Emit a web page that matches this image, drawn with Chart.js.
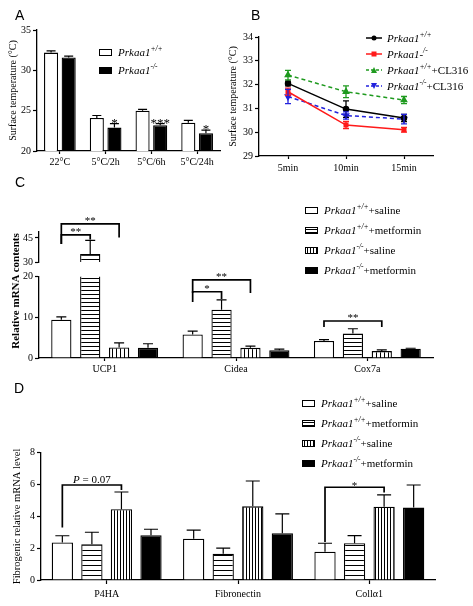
<!DOCTYPE html>
<html>
<head>
<meta charset="utf-8">
<script src="https://cdn.jsdelivr.net/npm/chart.js@4.4.1/dist/chart.umd.min.js"></script>
<style>
  body { margin: 0; background: #fff; }
  #fig { position: relative; width: 473px; height: 606px; overflow: hidden; font-family: 'Liberation Serif', 'Times New Roman', serif; color: #000; }
  canvas { position: absolute; }
  .tag { position: absolute; font: 14px/14px 'Liberation Sans', Arial, sans-serif; }
  .legend { position: absolute; font-size: 11px; }
  .legend .row { display: flex; align-items: center; white-space: nowrap; }
  .sw { width: 11px; height: 5px; border: 1.5px solid #000; margin-right: 6px; }
  .sw.white { background: #fff; }
  .sw.black { background: #000; }
  .sw.hstripe { background: repeating-linear-gradient(to bottom, #fff 0 1px, #000 1px 2px, #fff 2px 3px); }
  .sw.vstripe { background: repeating-linear-gradient(to right, #fff 0 1px, #000 1px 2px, #fff 2px 3px); }
  .legend i { font-style: italic; }
  .sup { font-size: 7.5px; font-style: italic; position: relative; top: -4px; }
  .ytitle { position: absolute; white-space: nowrap; transform: translate(-50%, -50%) rotate(-90deg); }
</style>
</head>
<body>
<div id="fig">
  <canvas id="chartA" width="236" height="180" style="left:0;top:0"></canvas>
  <canvas id="chartB" width="253" height="180" style="left:220px;top:0"></canvas>
  <canvas id="chartCtop" width="473" height="75" style="left:0;top:195px"></canvas>
  <canvas id="chartC" width="473" height="124" style="left:0;top:262px"></canvas>
  <canvas id="chartD" width="473" height="216" style="left:0;top:390px"></canvas>

  <div class="tag" style="left:15px;top:8px">A</div>
  <div class="tag" style="left:251px;top:8px">B</div>
  <div class="tag" style="left:15px;top:175px">C</div>
  <div class="tag" style="left:14px;top:381px">D</div>

  <div class="ytitle" style="left:15px;top:291px;font-size:11px;font-weight:bold">Relative mRNA contents</div>

  <div class="legend" style="left:99px;top:43px">
    <div class="row" style="height:18px"><span class="sw white"></span><i>Prkaa1</i><span class="sup">+/+</span></div>
    <div class="row" style="height:18px"><span class="sw black"></span><i>Prkaa1</i><span class="sup">-/-</span></div>
  </div>

  <div class="legend" style="left:366px;top:30px">
    <div class="row" style="height:16px"><svg width="16" height="8" style="margin-right:5px"><line x1="0" y1="4" x2="16" y2="4" stroke="#000" stroke-width="1.5"/><circle cx="8" cy="4" r="2.5" fill="#000"/></svg><i>Prkaa1</i><span class="sup">+/+</span></div>
    <div class="row" style="height:16px"><svg width="16" height="8" style="margin-right:5px"><line x1="0" y1="4" x2="16" y2="4" stroke="#ff1a1a" stroke-width="1.5"/><rect x="5.5" y="1.5" width="5" height="5" fill="#ff1a1a"/></svg><i>Prkaa1-</i><span class="sup">/-</span></div>
    <div class="row" style="height:16px"><svg width="16" height="8" style="margin-right:5px"><line x1="0" y1="4" x2="16" y2="4" stroke="#1f9a1f" stroke-width="1.5" stroke-dasharray="3,2"/><polygon points="8,1 5,7 11,7" fill="#1f9a1f"/></svg><i>Prkaa1</i><span class="sup">+/+</span>+CL316</div>
    <div class="row" style="height:16px"><svg width="16" height="8" style="margin-right:5px"><line x1="0" y1="4" x2="16" y2="4" stroke="#2222dd" stroke-width="1.5" stroke-dasharray="3,2"/><polygon points="8,7 5,1 11,1" fill="#2222dd"/></svg><i>Prkaa1</i><span class="sup">-/-</span>+CL316</div>
  </div>

  <div class="legend" style="left:305px;top:200px">
    <div class="row" style="height:20px"><span class="sw white"></span><i>Prkaa1</i><span class="sup">+/+</span>+saline</div>
    <div class="row" style="height:20px"><span class="sw hstripe"></span><i>Prkaa1</i><span class="sup">+/+</span>+metformin</div>
    <div class="row" style="height:20px"><span class="sw vstripe"></span><i>Prkaa1</i><span class="sup">-/-</span>+saline</div>
    <div class="row" style="height:20px"><span class="sw black"></span><i>Prkaa1</i><span class="sup">-/-</span>+metformin</div>
  </div>

  <div class="legend" style="left:302px;top:393px">
    <div class="row" style="height:20px"><span class="sw white"></span><i>Prkaa1</i><span class="sup">+/+</span>+saline</div>
    <div class="row" style="height:20px"><span class="sw hstripe"></span><i>Prkaa1</i><span class="sup">+/+</span>+metformin</div>
    <div class="row" style="height:20px"><span class="sw vstripe"></span><i>Prkaa1</i><span class="sup">-/-</span>+saline</div>
    <div class="row" style="height:20px"><span class="sw black"></span><i>Prkaa1</i><span class="sup">-/-</span>+metformin</div>
  </div>
</div>

<script>
// A - surface temperature, cold exposure
const catsA   = ['22°C', '5°C/2h', '5°C/6h', '5°C/24h']
const wtA     = [32.2, 24.1, 25.0, 23.5]
const wtErrA  = [0.2, 0.3, 0.15, 0.3]
const koA     = [31.6, 22.9, 23.2, 22.2]
const koErrA  = [0.15, 0.5, 0.2, 0.4]
const starsA  = ['', '*', '***', '*']

// B - surface temperature after CL316
const catsB     = ['5min', '10min', '15min']
const wtB       = [32.05, 30.97, 30.6]
const wtErrB    = [0.1, 0.35, 0.15]
const koB       = [31.7, 30.3, 30.1]
const koErrB    = [0.15, 0.15, 0.1]
const wtClB     = [32.4, 31.7, 31.35]
const wtClErrB  = [0.2, 0.25, 0.15]
const koClB     = [31.5, 30.7, 30.55]
const koClErrB  = [0.3, 0.15, 0.2]

// C - thermogenic genes
const genesC     = ['UCP1', 'Cidea', 'Cox7a']
const wtSalC     = [9.4, 5.8, 4.2]
const wtSalErrC  = [0.7, 0.8, 0.3]
const wtMetC     = [35, 11.9, 6.0]
const wtMetErrC  = [8.5, 2.4, 1.2]
const koSalC     = [2.6, 2.5, 1.7]
const koSalErrC  = [1.1, 0.4, 0.3]
const koMetC     = [2.5, 1.9, 2.3]
const koMetErrC  = [1.0, 0.3, 0.1]
// brackets: category, from/to dataset, top value, leg ends
const bracketsCtop = [
  { cat: 0, a: 0, b: 2, top: 53.7, endA: 41.2, endB: 45.2, text: '**' },
  { cat: 0, a: 0, b: 1, top: 46.9, endA: 41.2, endB: 44.0, text: '**' },
]
const bracketsC = [
  { cat: 1, a: 0, b: 2, top: 19.2, endA: 16.0, endB: 16.0, text: '**' },
  { cat: 1, a: 0, b: 1, top: 16.3, endA: 13.8, endB: 14.5, text: '*' },
  { cat: 2, a: 0, b: 2, top: 9.1, endA: 7.6, endB: 7.6, text: '**' },
]

// D - fibrogenic genes
const genesD     = ['P4HA', 'Fibronectin', 'Collα1']
const wtSalD     = [2.36, 2.59, 1.78]
const wtSalErrD  = [0.42, 0.54, 0.53]
const wtMetD     = [2.25, 1.65, 2.31]
const wtMetErrD  = [0.75, 0.35, 0.48]
const koSalD     = [4.45, 4.63, 4.61]
const koSalErrD  = [1.08, 1.59, 0.74]
const koMetD     = [2.82, 2.94, 4.55]
const koMetErrD  = [0.37, 1.21, 1.42]
const bracketsD = [
  { cat: 0, a: 0, b: 2, top: 5.97, endA: 3.3, endB: 5.66, text: 'P = 0.07', dy: -2 },
  { cat: 2, a: 0, b: 2, top: 5.83, endA: 2.39, endB: 5.5, text: '*', dy: 2 },
]

const SERIF = "'Liberation Serif', 'Times New Roman', serif"
Chart.defaults.font.family = SERIF
Chart.defaults.color = '#000'

function stripes(dir, gap) {
  const c = document.createElement('canvas')
  c.width = dir === 'h' ? 8 : gap
  c.height = dir === 'h' ? gap : 8
  const g = c.getContext('2d')
  g.fillStyle = '#fff'; g.fillRect(0, 0, c.width, c.height)
  g.fillStyle = '#000'
  if (dir === 'h') g.fillRect(0, 0, c.width, 1)
  else g.fillRect(0, 0, 1, c.height)
  return g.createPattern(c, 'repeat')
}

const errorBars = {
  id: 'errorBars',
  afterDatasetsDraw(chart, args, opts) {
    const ctx = chart.ctx, y = chart.scales.y, a = chart.chartArea
    const cap = opts.cap || 10
    ctx.save()
    ctx.beginPath(); ctx.rect(a.left - 10, a.top, a.right - a.left + 20, a.bottom - a.top); ctx.clip()
    chart.data.datasets.forEach((ds, i) => {
      if (!ds.errors) return
      ctx.strokeStyle = ds.errorColor || '#000'
      ctx.lineWidth = opts.width || 1.2
      chart.getDatasetMeta(i).data.forEach((el, j) => {
        const v = ds.data[j], e = ds.errors[j]
        const x = el.x
        const hi = y.getPixelForValue(v + e)
        const lo = opts.both ? y.getPixelForValue(v - e) : y.getPixelForValue(v)
        ctx.beginPath()
        ctx.moveTo(x, lo); ctx.lineTo(x, hi)
        ctx.moveTo(x - cap / 2, hi); ctx.lineTo(x + cap / 2, hi)
        if (opts.both) { ctx.moveTo(x - cap / 2, lo); ctx.lineTo(x + cap / 2, lo) }
        ctx.stroke()
      })
    })
    ctx.restore()
  }
}

function drawLabel(ctx, text, x, y, size) {
  ctx.textBaseline = 'alphabetic'
  if (text.startsWith('P')) {
    const rest = text.slice(1)
    ctx.font = `italic ${size}px ${SERIF}`
    const w1 = ctx.measureText('P').width
    ctx.font = `${size}px ${SERIF}`
    const w2 = ctx.measureText(rest).width
    const x0 = x - (w1 + w2) / 2
    ctx.textAlign = 'left'
    ctx.font = `italic ${size}px ${SERIF}`; ctx.fillText('P', x0, y)
    ctx.font = `${size}px ${SERIF}`; ctx.fillText(rest, x0 + w1, y)
  } else {
    ctx.textAlign = 'center'
    ctx.font = `${size}px ${SERIF}`
    ctx.fillText(text, x, y)
  }
}

const sigMarks = {
  id: 'sigMarks',
  afterDatasetsDraw(chart, args, opts) {
    const ctx = chart.ctx, y = chart.scales.y
    ctx.save()
    ctx.strokeStyle = '#000'; ctx.fillStyle = '#000'
    ctx.lineWidth = opts.lineWidth || 1.7
    ;(opts.brackets || []).forEach(b => {
      const xa = chart.getDatasetMeta(b.a).data[b.cat].x
      const xb = chart.getDatasetMeta(b.b).data[b.cat].x
      const yt = y.getPixelForValue(b.top)
      ctx.beginPath()
      ctx.moveTo(xa, y.getPixelForValue(b.endA))
      ctx.lineTo(xa, yt); ctx.lineTo(xb, yt)
      ctx.lineTo(xb, y.getPixelForValue(b.endB))
      ctx.stroke()
      drawLabel(ctx, b.text, (xa + xb) / 2, yt + (b.dy || 0), opts.size || 11)
    })
    if (opts.stars) {
      const ds = chart.data.datasets[opts.stars.ds]
      chart.getDatasetMeta(opts.stars.ds).data.forEach((el, j) => {
        const t = opts.stars.marks[j]
        if (!t) return
        const yc = y.getPixelForValue(ds.data[j] + ds.errors[j])
        drawLabel(ctx, t, el.x, yc + 3, opts.stars.size || 13)
      })
    }
    ctx.restore()
  }
}

function xAxis(h, tl, pad, size) {
  return {
    afterFit: s => { s.height = h },
    grid: { display: true, drawOnChartArea: false, offset: false, tickLength: tl, color: '#000', tickWidth: 1.2 },
    border: { color: '#000', width: 1.3 },
    ticks: { padding: pad, font: { size: size || 10 }, color: '#000', maxRotation: 0, autoSkip: false },
  }
}

function yAxis(w, min, max, step, title, tSize, tPad) {
  return {
    min, max,
    afterFit: s => { s.width = w },
    grid: { display: true, drawOnChartArea: false, tickLength: 4, color: '#000', tickWidth: 1.2 },
    border: { color: '#000', width: 1.3 },
    ticks: { stepSize: step, padding: 2, font: { size: 10 }, color: '#000' },
    title: title ? { display: true, text: title, font: { size: tSize }, color: '#000', padding: { top: tPad, bottom: 0 } } : { display: false },
  }
}

const baseOpts = {
  responsive: false,
  animation: false,
  events: [],
}

// ---- A
new Chart(document.getElementById('chartA'), {
  type: 'bar',
  data: {
    labels: catsA,
    datasets: [
      { label: 'Prkaa1+/+', data: wtA, errors: wtErrA, backgroundColor: '#fff', borderColor: '#000', borderWidth: 1.3 },
      { label: 'Prkaa1-/-', data: koA, errors: koErrA, backgroundColor: '#000', borderColor: '#000', borderWidth: 1.3 },
    ]
  },
  options: {
    ...baseOpts,
    layout: { padding: { left: 0, right: 16, top: 30, bottom: 4 } },
    datasets: { bar: { categoryPercentage: 0.77, barPercentage: 0.8 } },
    plugins: {
      legend: { display: false }, tooltip: { enabled: false },
      errorBars: { cap: 9 },
      sigMarks: { stars: { ds: 1, marks: starsA, size: 13 } },
    },
    scales: {
      x: xAxis(25, 3, 2),
      y: yAxis(37, 20, 35, 5, 'Surface temperature (°C)', 10, 7),
    }
  },
  plugins: [errorBars, sigMarks]
})

// ---- B
const lineSet = (label, data, errors, color, style, extra) => ({
  label, data, errors, errorColor: color,
  borderColor: color, backgroundColor: color, pointBorderColor: color, pointBackgroundColor: color,
  borderWidth: 1.5, pointStyle: style, pointRadius: 3, tension: 0, ...extra
})
new Chart(document.getElementById('chartB'), {
  type: 'line',
  data: {
    labels: catsB,
    datasets: [
      lineSet('Prkaa1+/+', wtB, wtErrB, '#000', 'circle', { pointRadius: 2.5 }),
      lineSet('Prkaa1-/-', koB, koErrB, '#ff1a1a', 'rect', { pointRadius: 2.5 }),
      lineSet('Prkaa1+/++CL316', wtClB, wtClErrB, '#1f9a1f', 'triangle', { borderDash: [4, 3] }),
      lineSet('Prkaa1-/-+CL316', koClB, koClErrB, '#2222dd', 'triangle', { borderDash: [4, 3], rotation: 180 }),
    ]
  },
  options: {
    ...baseOpts,
    layout: { padding: { left: 0, right: 40, top: 37, bottom: 0 } },
    plugins: { legend: { display: false }, tooltip: { enabled: false }, errorBars: { cap: 6, both: true, width: 1.3 } },
    scales: {
      x: { ...xAxis(24, 3, 3), offset: true },
      y: yAxis(39, 29, 34, 1, 'Surface temperature (°C)', 10, 7),
    }
  },
  plugins: [errorBars]
})

// ---- C (broken axis: upper and lower panels share data)
const barSetsC = () => [
  { label: 'Prkaa1+/++saline', data: wtSalC, errors: wtSalErrC, backgroundColor: '#fff' },
  { label: 'Prkaa1+/++metformin', data: wtMetC, errors: wtMetErrC, backgroundColor: stripes('h', 4) },
  { label: 'Prkaa1-/-+saline', data: koSalC, errors: koSalErrC, backgroundColor: stripes('v', 4) },
  { label: 'Prkaa1-/-+metformin', data: koMetC, errors: koMetErrC, backgroundColor: '#000' },
].map(d => ({ ...d, borderColor: '#000', borderWidth: 1.3, clip: 0 }))

new Chart(document.getElementById('chartCtop'), {
  type: 'bar',
  data: { labels: genesC, datasets: barSetsC() },
  options: {
    ...baseOpts,
    layout: { padding: { left: 0, right: 40, top: 36.5, bottom: 5.7 } },
    datasets: { bar: { categoryPercentage: 0.88, barPercentage: 0.7 } },
    plugins: {
      legend: { display: false }, tooltip: { enabled: false },
      errorBars: { cap: 10 },
      sigMarks: { brackets: bracketsCtop, size: 11 },
    },
    scales: {
      x: { ...xAxis(0, 3, 2), display: false },
      y: { ...yAxis(39, 30, 49, 15), afterBuildTicks: s => { s.ticks = [{ value: 30 }, { value: 45 }] } },
    }
  },
  plugins: [errorBars, sigMarks]
})

new Chart(document.getElementById('chartC'), {
  type: 'bar',
  data: { labels: genesC, datasets: barSetsC() },
  options: {
    ...baseOpts,
    layout: { padding: { left: 0, right: 40, top: 14.7, bottom: 4 } },
    datasets: { bar: { categoryPercentage: 0.88, barPercentage: 0.7 } },
    plugins: {
      legend: { display: false }, tooltip: { enabled: false },
      errorBars: { cap: 10 },
      sigMarks: { brackets: bracketsC, size: 11 },
    },
    scales: {
      x: xAxis(24, 3, 2),
      y: yAxis(39, 0, 20, 10),
    }
  },
  plugins: [errorBars, sigMarks]
})

// ---- D
new Chart(document.getElementById('chartD'), {
  type: 'bar',
  data: {
    labels: genesD,
    datasets: [
      { label: 'Prkaa1+/++saline', data: wtSalD, errors: wtSalErrD, backgroundColor: '#fff' },
      { label: 'Prkaa1+/++metformin', data: wtMetD, errors: wtMetErrD, backgroundColor: stripes('h', 5) },
      { label: 'Prkaa1-/-+saline', data: koSalD, errors: koSalErrD, backgroundColor: stripes('v', 3) },
      { label: 'Prkaa1-/-+metformin', data: koMetD, errors: koMetErrD, backgroundColor: '#000' },
    ].map(d => ({ ...d, borderColor: '#000', borderWidth: 1.3 }))
  },
  options: {
    ...baseOpts,
    layout: { padding: { left: 0, right: 38, top: 62.7, bottom: 4 } },
    datasets: { bar: { categoryPercentage: 0.9, barPercentage: 0.72 } },
    plugins: {
      legend: { display: false }, tooltip: { enabled: false },
      errorBars: { cap: 14 },
      sigMarks: { brackets: bracketsD, size: 11 },
    },
    scales: {
      x: xAxis(22, 4, 4),
      y: yAxis(41, 0, 8, 2, 'Fibrogenic relative mRNA level', 10.5, 10.5),
    }
  },
  plugins: [errorBars, sigMarks]
})
</script>
</body>
</html>
